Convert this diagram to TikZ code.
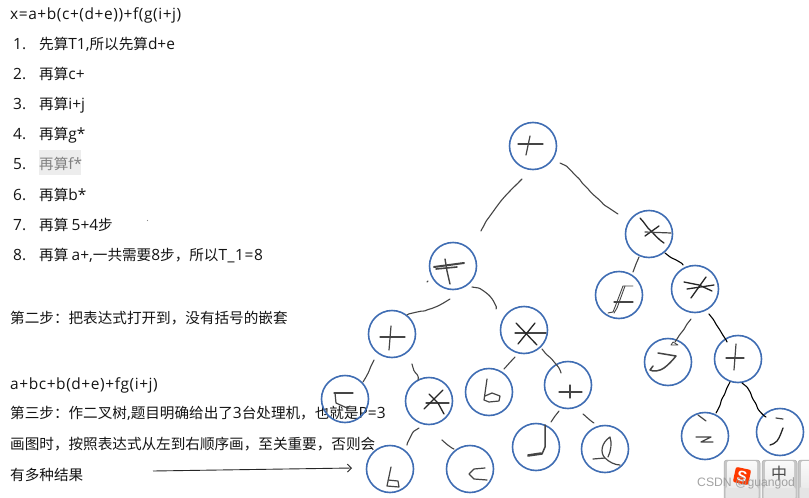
\documentclass[tikz,border=0pt]{standalone}
\usepackage{fontspec}
\setmainfont{Noto Sans CJK SC}
\newfontfamily\wmfont{Liberation Sans}
\newfontfamily\latfont{Open Sans}[Scale=1.06]
\newfontfamily\latwide{Open Sans}[Scale=1.06,LetterSpace=3.7]
\newcommand{\lat}[1]{{\latfont #1}}
\newcommand{\latw}[1]{{\latwide #1}}
\usetikzlibrary{calc,arrows.meta,decorations.pathmorphing}
\definecolor{ringblue}{HTML}{3F6DB3}
\definecolor{inkgray}{HTML}{454545}
\tikzset{
  ring/.style={circle,draw=ringblue,line width=1.6pt,minimum size=47pt,inner sep=0pt},
  txt/.style={anchor=base west,inner sep=0pt,font=\fontsize{14.6pt}{16pt}\selectfont,text=black!92},
  hand/.style={draw=inkgray,line width=1.1pt,line cap=round,line join=round,
    rounded corners=1pt,decorate,decoration={random steps,segment length=6pt,amplitude=.5pt,pre length=1pt,post length=1pt}},
  glyph/.style={draw=inkgray,line width=1.2pt,line cap=round,line join=round},
  darkglyph/.style={draw=black!85,line width=1.3pt,line cap=round,line join=round},
  keyouter/.style={rounded corners=3pt,fill=black!22,draw=black!32,line width=.5pt},
  keyface/.style={rounded corners=2pt,top color=black!2,bottom color=black!8},
  keylip/.style={fill=black!10},
}
\begin{document}
\begin{tikzpicture}[x=1pt,y=-1pt]
\pgfmathsetseed{11}
\useasboundingbox (0,0) rectangle (809,498);
\fill[white] (0,0) rectangle (809,498);
% highlight behind item 5
\fill[black!7] (39,150) rectangle (81,175);
\fill[black!45] (147.5,220.5) circle (.7pt);
% text
\node[txt] (title) at (10,19) {\latw{x=a+b(c+(d+e))+f(g(i+j)}};
\node[txt] (n1) at (13,49) {\lat{1.}};
\node[txt] (t1) at (39,49) {先算\lat{T1,}所以先算\lat{d+e}};
\node[txt] (n2) at (13,79) {\lat{2.}};
\node[txt] (t2) at (39,79) {再算\lat{c+}};
\node[txt] (n3) at (13,109) {\lat{3.}};
\node[txt] (t3) at (39,109) {再算\lat{i+j}};
\node[txt] (n4) at (13,139) {\lat{4.}};
\node[txt] (t4) at (39,139) {再算\lat{g*}};
\node[txt] (n5) at (13,169) {\lat{5.}};
\node[txt,text=black!50] (t5) at (39,169) {再算\lat{f*}};
\node[txt] (n6) at (13,200) {\lat{6.}};
\node[txt] (t6) at (39,200) {再算\lat{b*}};
\node[txt] (n7) at (13,230) {\lat{7.}};
\node[txt] (t7) at (39,230) {再算 \lat{5+4}步};
\node[txt] (n8) at (13,260) {\lat{8.}};
\node[txt] (t8) at (39,260) {再算 \lat{a+,}一共需要\lat{8}步，所以\latw{T\_1=8}};
\node[txt] (s2) at (10,323) {第二步：把表达式打开到，没有括号的嵌套};
\node[txt] (ex) at (10,389) {\latw{a+bc+b(d+e)+fg(i+j)}};
\node[txt] (s3) at (10,418) {第三步：作二叉树\lat{,}题目明确给出了\lat{3}台处理机，也就是\lat{P=3}};
\node[txt] (s4) at (10,449) {画图时，按照表达式从左到右顺序画，至关重要，否则会};
\node[txt] (s5) at (10,480) {有多种结果};
% rings
\node[ring] (root) at (533,146) {};
\node[ring] (tp) at (453,266) {};
\node[ring] (ml) at (649,234) {};
\node[ring] (nf) at (619,295) {};
\node[ring] (mr) at (695,289) {};
\node[ring] (ng) at (668,362) {};
\node[ring] (pr) at (738,359) {};
\node[ring] (ni) at (705,436) {};
\node[ring] (nj) at (780,432) {};
\node[ring] (pl) at (392,334) {};
\node[ring] (mb) at (524,330) {};
\node[ring] (na) at (345,399) {};
\node[ring] (mc) at (429,401) {};
\node[ring] (nb) at (489,392) {};
\node[ring] (pd) at (568,385) {};
\node[ring] (nb2) at (390,469) {};
\node[ring] (nc) at (470,469) {};
\node[ring] (nd) at (536,447) {};
\node[ring] (ne) at (605,449) {};
% connectors
\draw[hand] ($(root)+(-11,33)$) .. controls (505,196) and (490,212) .. ($(tp)+(28,-35)$);
\draw[hand] ($(root)+(27,17)$) .. controls (578,172) and (588,196) .. ($(ml)+(-31,-20)$);
\draw[hand] ($(tp)+(-3,33)$) .. controls (437,307) and (425,311) .. (423,311) .. controls (418,312) and (412,313) .. ($(pl)+(15,-19)$);
\draw[hand] ($(tp)+(19,21)$) .. controls (484,289) and (493,298) .. ($(mb)+(-28,-21)$);
\draw[hand] ($(pl)+(-18,26)$) .. controls (371,367) and (367,375) .. ($(na)+(18,-17)$);
\draw[hand] ($(pl)+(20,30)$) .. controls (413,370) and (418,373) .. ($(mc)+(-11,-21)$);
\draw[hand] ($(mc)+(-10,27)$) .. controls (414,431) and (410,438) .. ($(nb2)+(17,-24)$);
\draw[hand] ($(mc)+(13,39)$) .. controls (445,443) and (449,446) .. ($(nc)+(-16,-20)$);
\draw[hand] ($(mb)+(-9,27)$) -- ($(nb)+(15,-23)$);
\draw[hand] ($(mb)+(18,19)$) .. controls (549,357) and (557,364) .. ($(pd)+(-7,-12)$);
\draw[hand] ($(pd)+(-9,26)$) -- ($(nd)+(15,-25)$);
\draw[hand] ($(pd)+(15,29)$) .. controls (587,417) and (591,421) .. ($(ne)+(-11,-26)$);
\draw[hand] ($(ml)+(-10,23)$) -- ($(nf)+(14,-23)$);
\draw[hand,black] ($(ml)+(16,19)$) .. controls (670,257) and (678,260) .. ($(mr)+(-12,-24)$);
\draw[hand] ($(mr)+(-4,30)$) -- ($(ng)+(7,-20)$);
\draw[hand,black] ($(mr)+(14,25)$) .. controls (715,322) and (722,332) .. ($(pr)+(-11,-17)$);
\draw[hand,black] ($(pr)+(-8,23)$) .. controls (725,392) and (720,405) .. ($(ni)+(11,-23)$);
\draw[hand,black] ($(pr)+(4,24)$) .. controls (752,390) and (754,408) .. ($(nj)+(-14,-15)$);
% hand-written signs
\begin{scope}[shift={(root)}]
  \draw[glyph] (-15,-2) -- (10,-2); \draw[glyph] (-3,-10) -- (-7,9);
\end{scope}
\begin{scope}[shift={(ml)}]
  \draw[darkglyph] (-9,-16) .. controls (-4,-11) and (-2,-6) .. (2,-3) .. controls (6,1) and (10,6) .. (15,9);
  \draw[darkglyph] (10,-8) -- (-4,2); \draw[glyph] (-4,-2) -- (22,-1);
\end{scope}
\begin{scope}[shift={(nf)}]
  \draw[glyph] (-5,7) -- (14,7);
  \draw[glyph,line width=.9pt] (14,-9) -- (4,-9) -- (-4,12) -- (-6,17) -- (-11,18);
  \draw[glyph,line width=.9pt] (6,-9) -- (-2,13) -- (-5,18);
\end{scope}
\begin{scope}[shift={(mr)}]
  \draw[darkglyph] (-11,-7) -- (4,-4) -- (17,2); \draw[darkglyph] (-8,0) -- (19,-4); \draw[darkglyph] (11,-12) -- (-4,9);
\end{scope}
\begin{scope}[shift={(ng)}]
  \draw[glyph,line width=1.5pt] (-10,-9) -- (8,-6) .. controls (4,-1) and (0,3) .. (-4,6) .. controls (-8,9) and (-15,10) .. (-18,8) -- (-15,4);
  \draw[glyph,line width=.8pt] (5,-20) -- (10,-17) -- (3,-17) -- (5,-20);
\end{scope}
\begin{scope}[shift={(pr)}]
  \draw[glyph] (-12,-1) -- (6,-1); \draw[glyph] (-2,-15) -- (-4,11);
\end{scope}
\begin{scope}[shift={(ni)}]
  \draw[glyph] (-7,-21) -- (1,-15); \draw[glyph] (-9,1) -- (6,1) -- (-4,6) -- (8,6);
\end{scope}
\begin{scope}[shift={(nj)}]
  \draw[glyph] (-4,-14) -- (3,-13);
  \draw[darkglyph] (3,-4) .. controls (1,1) and (0,5) .. (-3,9) .. controls (-5,11) and (-8,13) .. (-10,13);
\end{scope}
\begin{scope}[shift={(tp)}]
  \draw[glyph,line width=2pt] (-19,1) -- (11,-3);
  \draw[glyph,line width=1.6pt] (-17,3) -- (4,1);
  \draw[glyph,line width=1.4pt] (-8,-7) -- (-6,5) -- (-3,18);
  \draw[glyph] (-25,15) -- (-26,16);
\end{scope}
\begin{scope}[shift={(pl)}]
  \draw[glyph] (-12,3) -- (13,3); \draw[glyph] (-1,-8) -- (-3,16);
\end{scope}
\begin{scope}[shift={(mb)}]
  \draw[glyph] (-9,3) -- (22,3); \draw[darkglyph] (-8,-7) -- (13,15); \draw[darkglyph] (11,-7) -- (-6,14);
\end{scope}
\begin{scope}[shift={(na)}]
  \draw[glyph] (-11,-6) -- (8,-6); \draw[glyph] (-10,-6) -- (-9,4) -- (2,9) -- (5,7);
\end{scope}
\begin{scope}[shift={(mc)}]
  \draw[glyph] (-3,2) -- (20,2); \draw[darkglyph] (0,-7) -- (9,2) -- (15,13); \draw[darkglyph] (14,-11) -- (-5,8);
\end{scope}
\begin{scope}[shift={(nb)}]
  \draw[glyph] (-2,-13) -- (-5,8) -- (0,10) -- (10,9) -- (11,4) -- (3,1) -- (-4,4);
\end{scope}
\begin{scope}[shift={(pd)}]
  \draw[glyph] (-9,7) -- (14,7); \draw[glyph] (2,0) -- (2,13);
\end{scope}
\begin{scope}[shift={(nb2)}]
  \draw[glyph] (1,-2) -- (-3,17) -- (9,18) -- (8,12) -- (-2,11);
\end{scope}
\begin{scope}[shift={(nc)}]
  \draw[glyph] (15,-1) -- (4,0) -- (-1,5) -- (4,10) -- (17,11);
\end{scope}
\begin{scope}[shift={(nd)}]
  \draw[glyph,line width=1.5pt] (9,-22) -- (9,0) -- (6,7) -- (-8,9) -- (-8,8) -- (5,6);
\end{scope}
\begin{scope}[shift={(ne)}]
  \draw[glyph] (-12,10) -- (0,9) .. controls (4,13) and (10,16) .. (15,16);
  \draw[glyph] (0,9) .. controls (-5,4) and (-4,-6) .. (5,-12) .. controls (7,-6) and (6,2) .. (3,8);
\end{scope}
% arrow
\coordinate (arrowstart) at (153,471);
\draw[black!85,line width=.9pt,-{Straight Barb[length=4pt,width=8pt]}] (arrowstart) -- ($(nb2)+(-38,-1)$);
% keys and watermark
\begin{scope}
  \clip (0,0) rectangle (809,498);
  \foreach \kx/\kw in {724/36,762/35,798/36}{
    \path[keyouter] (\kx,460) rectangle ++(\kw,42);
    \path[keylip,rounded corners=2pt] (\kx+1.5,487) rectangle ++(\kw-3,12);
    \path[keyface] (\kx+3,461) rectangle ++(\kw-6,27);
  }
\end{scope}
\node[inner sep=0pt,rotate=-12,minimum size=15.5pt,fill=orange!45!red,rounded corners=2pt] (sbg) at (742,476) {};
\node[inner sep=0pt,rotate=-12,text=white,font=\wmfont\bfseries\fontsize{15pt}{15pt}\selectfont] (skey) at (742,476) {S};
\node[inner sep=0pt,text=black!70,font=\fontsize{16pt}{18pt}\selectfont] (zkey) at (779,473) {中};
\node[anchor=base west,inner sep=0pt,text=black!40,opacity=.9,font=\wmfont\fontsize{12.2pt}{14pt}\selectfont] (wm) at (697,486) {CSDN @guangod};
\end{tikzpicture}
\end{document}
